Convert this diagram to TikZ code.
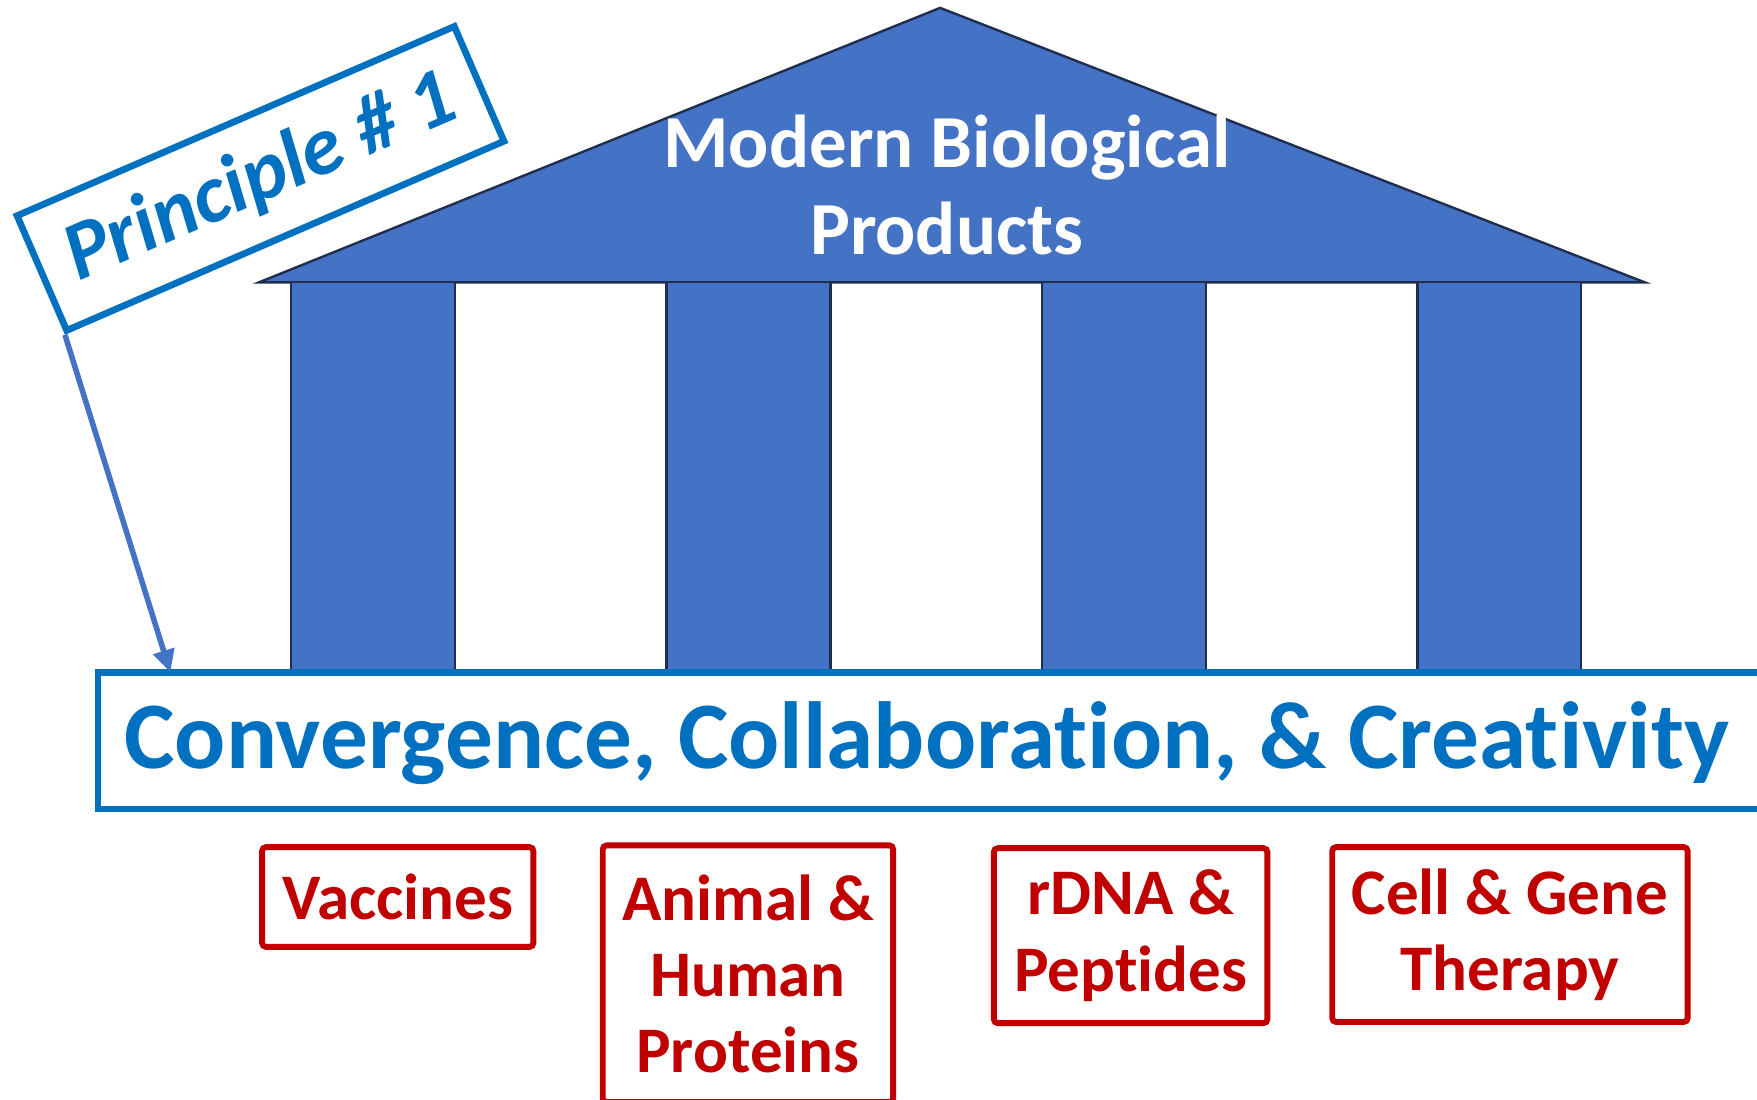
\documentclass[tikz,border=0pt]{standalone}
\usepackage{fontspec}
\setmainfont{Carlito}[Ligatures=NoCommon]
\usetikzlibrary{arrows.meta,calc}
\definecolor{roofblue}{HTML}{4472C4}
\definecolor{edgenavy}{HTML}{1F2D4F}
\definecolor{textblue}{HTML}{0070C0}
\definecolor{darkred}{HTML}{C00000}
\begin{document}
\begin{tikzpicture}[x=0.01cm,y=-0.01cm,
  pillar/.style={draw=edgenavy, line width=0.6pt, fill=roofblue,
    minimum width=1.46cm, minimum height=3.48cm, inner sep=0pt},
  itembox/.style={draw=darkred, line width=1.5pt, rounded corners=1pt, fill=white,
    text=darkred, font=\fontsize{16.5}{19.3}\selectfont\bfseries,
    align=center, inner sep=0pt},
  bluebox/.style={draw=textblue, line width=1.7pt, fill=white, inner sep=0pt},
  pointer/.style={draw=roofblue, line width=1.4pt,
    -{Triangle[length=0.2cm,width=0.19cm]}}]

\clip (0,0) rectangle (1568,981);
\fill[white] (0,0) rectangle (1568,981);

% roof
\coordinate (apex) at (839,7);
\coordinate (eaveL) at (231,252);
\coordinate (eaveR) at (1468,252);
\filldraw[fill=roofblue, draw=edgenavy, line width=0.6pt, line join=miter]
  (eaveL) -- (apex) -- (eaveR) -- cycle;
\node[text=white, font=\fontsize{19}{22.2}\selectfont\bfseries, align=center]
  (rooftext) at (845,165) {Modern Biological\\Products};

% columns
\node[pillar] (col1) at (333,426) {};
\node[pillar] (col2) at (668,426) {};
\node[pillar] (col3) at (1003,426) {};
\node[pillar] (col4) at (1338,426) {};

% foundation
\node[bluebox, minimum width=15.3cm, minimum height=1.22cm] (conv) at (853,661) {};
\node[text=textblue, font=\fontsize{24.2}{28}\selectfont\bfseries]
  (convtext) at (827,663) {Convergence, Collaboration, \& Creativity};

% flag label
\node[bluebox, rotate=23.4, minimum width=4.25cm, minimum height=1.115cm,
  text=textblue, font=\fontsize{21}{25}\selectfont\bfseries\itshape]
  (principle) at (232.5,159.25) {Principle \# 1};
\coordinate (pointerend) at (152,600);
\draw[pointer] (principle.south west) -- (pointerend);

% product classes
\node[itembox, minimum width=2.42cm, minimum height=0.89cm] (vacc) at (355,800.5) {Vaccines};
\node[itembox, minimum width=2.59cm, minimum height=2.29cm] (animal) at (667.5,869)
  {Animal \&\\Human\\Proteins};
\node[itembox, minimum width=2.44cm, minimum height=1.56cm] (rdna) at (1009,835)
  {rDNA \&\\Peptides};
\node[itembox, minimum width=3.17cm, minimum height=1.56cm] (cell) at (1347.5,834)
  {Cell \& Gene\\Therapy};
\end{tikzpicture}
\end{document}
